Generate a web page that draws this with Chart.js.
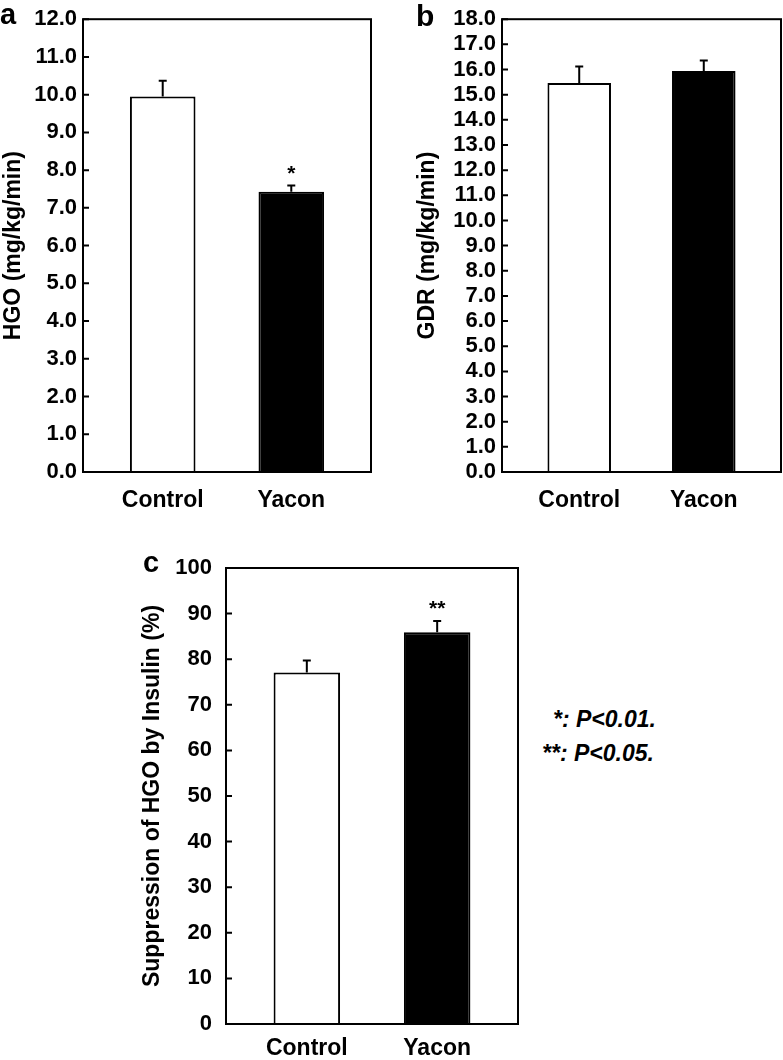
<!DOCTYPE html>
<html>
<head>
<meta charset="utf-8">
<script src="https://cdn.jsdelivr.net/npm/chart.js@4/dist/chart.umd.min.js"></script>
<style>
body{margin:0;background:#fff;width:783px;height:1060px;position:relative;overflow:hidden;font-family:'Liberation Sans',Arial,sans-serif;}
canvas{position:absolute;}
.lbl{position:absolute;font-weight:bold;line-height:1;color:#000;white-space:nowrap;}
.note{font-style:italic;font-size:23px;}
</style>
</head>
<body>
<canvas id="chartA" width="390" height="530" style="left:0;top:0"></canvas>
<canvas id="chartB" width="393" height="530" style="left:390px;top:0"></canvas>
<canvas id="chartC" width="400" height="520" style="left:130px;top:540px"></canvas>
<div class="lbl" style="left:0;top:0;font-size:29px">a</div>
<div class="lbl" style="left:416px;top:1px;font-size:30px">b</div>
<div class="lbl" style="left:143px;top:548px;font-size:29px">c</div>
<div class="lbl note" style="left:553px;top:708px">*: P&lt;0.01.</div>
<div class="lbl note" style="left:542px;top:742px">**: P&lt;0.05.</div>
<script>
var groups = ['Control', 'Yacon'];
var barColors = ['#ffffff', '#000000'];

// a: hepatic glucose output
var hgo = [9.95, 7.43];
var hgoErr = [0.42, 0.16];
var hgoStars = ['', '*'];

// b: glucose disposal rate
var gdr = [15.46, 15.94];
var gdrErr = [0.66, 0.42];
var gdrStars = ['', ''];

// c: suppression of HGO by insulin
var supp = [77.1, 85.9];
var suppErr = [2.6, 2.5];
var suppStars = ['', '**'];

Chart.defaults.font.family = "'Liberation Sans', Arial, sans-serif";
Chart.defaults.font.weight = 'bold';
Chart.defaults.color = '#000';

// frame, inward ticks, error bars and significance marks
var decorations = {
    id: 'decorations',
    afterDatasetsDraw: function(chart){
        var ctx = chart.ctx;
        var area = chart.chartArea;
        var xs = chart.scales.x;
        var ys = chart.scales.y;
        var ds = chart.data.datasets[0];
        ctx.save();
        ctx.strokeStyle = '#000';
        ctx.fillStyle = '#000';
        ctx.lineWidth = 2;
        for(var i=0;i<ds.data.length;i++){
            var px = xs.getPixelForValue(ds.data[i].x);
            var top = ys.getPixelForValue(ds.data[i].y);
            var hi = ys.getPixelForValue(ds.data[i].y + ds.errors[i]);
            ctx.beginPath();
            ctx.moveTo(px, top);
            ctx.lineTo(px, hi);
            ctx.moveTo(px-4, hi);
            ctx.lineTo(px+4, hi);
            ctx.stroke();
            if(ds.stars[i]){
                ctx.font = "bold 21px 'Liberation Sans', Arial, sans-serif";
                ctx.textAlign = 'center';
                ctx.textBaseline = 'alphabetic';
                ctx.fillText(ds.stars[i], px, hi - 6);
            }
        }
        ctx.beginPath();
        ys.ticks.forEach(function(t){
            var py = ys.getPixelForValue(t.value);
            ctx.moveTo(area.left, py);
            ctx.lineTo(area.left + 6, py);
        });
        ctx.stroke();
        ctx.strokeRect(area.left, area.top, area.right - area.left, area.bottom - area.top);
        ctx.restore();
    }
};

function panel(id, values, errors, stars, cfg){
    var points = [];
    for(var i=0;i<values.length;i++) points.push({x: i+1, y: values[i]});
    return new Chart(document.getElementById(id), {
        type: 'bar',
        data: {
            datasets: [{
                data: points,
                errors: errors,
                stars: stars,
                backgroundColor: barColors,
                borderColor: '#000',
                borderWidth: 2,
                categoryPercentage: 1,
                barPercentage: 0.51
            }]
        },
        options: {
            responsive: false,
            animation: false,
            layout: { padding: { top: cfg.padTop, right: cfg.padRight, left: 0, bottom: 0 } },
            plugins: { legend: { display: false }, tooltip: { enabled: false } },
            scales: {
                x: {
                    type: 'linear', min: 0.38, max: 2.62, offset: false,
                    grid: { display: false, drawTicks: false },
                    border: { display: false },
                    afterBuildTicks: function(s){
                        s.ticks = groups.map(function(g, i){ return { value: i+1 }; });
                    },
                    ticks: {
                        padding: cfg.xPad,
                        font: { size: 23, weight: 'bold' },
                        callback: function(v){ return groups[v-1]; }
                    },
                    afterFit: function(s){ s.height = cfg.xHeight; }
                },
                y: {
                    min: 0, max: cfg.max,
                    grid: { display: false, drawTicks: false },
                    border: { display: false },
                    ticks: {
                        stepSize: cfg.step, autoSkip: false, padding: cfg.tickPad,
                        font: { size: 22, weight: 'bold' },
                        callback: function(v){ return v.toFixed(cfg.dec); }
                    },
                    title: {
                        display: true, text: cfg.title,
                        font: { size: 23, weight: 'bold' },
                        padding: { top: cfg.titlePad, bottom: 0 }
                    },
                    afterFit: function(s){ s.width = cfg.yWidth; }
                }
            }
        },
        plugins: [decorations]
    });
}

panel('chartA', hgo, hgoErr, hgoStars, {
    padTop: 14, padRight: 19, yWidth: 83, xHeight: 58, xPad: 15,
    max: 12, step: 1, dec: 1, tickPad: 6, titlePad: 0, title: 'HGO (mg/kg/min)'
});
panel('chartB', gdr, gdrErr, gdrStars, {
    padTop: 14, padRight: 2, yWidth: 112, xHeight: 58, xPad: 15,
    max: 18, step: 1, dec: 1, tickPad: 6, titlePad: 24, title: 'GDR (mg/kg/min)'
});
panel('chartC', supp, suppErr, suppStars, {
    padTop: 28, padRight: 12, yWidth: 96, xHeight: 36, xPad: 11,
    max: 100, step: 10, dec: 0, tickPad: 14, titlePad: 9, title: 'Suppression of HGO by Insulin (%)'
});
</script>
</body>
</html>
